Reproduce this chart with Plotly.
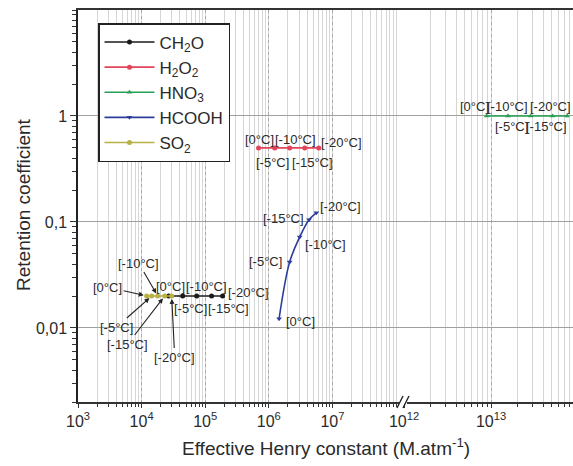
import numpy as np
import plotly.graph_objects as go

# ---------------- data ----------------
temps = ["[0°C]", "[-5°C]", "[-10°C]", "[-15°C]", "[-20°C]"]

ch2o_H = [2.67e4, 4.43e4, 7.35e4, 1.26e5, 1.88e5]
ch2o_R = [0.02, 0.02, 0.02, 0.02, 0.02]

h2o2_H = [6.9e5, 1.24e6, 2.13e6, 3.67e6, 6.1e6]
h2o2_R = [0.5, 0.5, 0.5, 0.5, 0.5]

hno3_H = [8.9e12, 1.57e13, 2.86e13, 5.1e13, 7.5e13]
hno3_R = [1.0, 1.0, 1.0, 1.0, 1.0]

hcooh_H = [1.45e6, 2.13e6, 3.06e6, 4.29e6, 5.6e6]
hcooh_R = [0.0122, 0.042, 0.072, 0.105, 0.122]

so2_H = [1.20e4, 1.44e4, 1.79e4, 2.31e4, 2.97e4]
so2_R = [0.02, 0.02, 0.02, 0.02, 0.02]

x_left_ticks = [1e3, 1e4, 1e5, 1e6, 1e7]
x_left_text = ["10<sup>3</sup>", "10<sup>4</sup>", "10<sup>5</sup>", "10<sup>6</sup>", "10<sup>7</sup>"]
x_right_ticks = [1e12, 1e13]
x_right_text = ["10<sup>12</sup>", "10<sup>13</sup>"]
y_ticks = [1, 0.1, 0.01]
y_text = ["1", "0,1", "0,01"]

# ---------------- styles ----------------
W, H = 573, 466
ML, MR, MT, MB = 78, 0, 10, 64
split = (403 - ML) / (W - ML - MR)
FONT = "Liberation Sans, Arial, sans-serif"
TXT = "#2a2a2a"

series = [
    ("CH<sub>2</sub>O", ch2o_H, ch2o_R, "#1a1a1a", "circle", "x", "linear"),
    ("H<sub>2</sub>O<sub>2</sub>", h2o2_H, h2o2_R, "#e2445a", "circle", "x", "linear"),
    ("HNO<sub>3</sub>", hno3_H, hno3_R, "#27a055", "triangle-up", "x2", "linear"),
    ("HCOOH", hcooh_H, hcooh_R, "#2c3c9a", "triangle-down", "x", "spline"),
    ("SO<sub>2</sub>", so2_H, so2_R, "#b8b044", "circle", "x", "linear"),
]

fig = go.Figure()
for i, (name, xs, ys, col, sym, xa, shp) in enumerate(series):
    fig.add_trace(go.Scatter(
        x=xs, y=ys, name=name, mode="lines+markers",
        xaxis=xa, yaxis="y" if xa == "x" else "y2",
        line=dict(color=col, width=1.6, shape=shp, smoothing=1.0),
        marker=dict(color=col, size=5, symbol=sym),
        legendgroup=str(i),
    ))

# label offsets (pixels): (xshift, yshift) for plain labels
lab_style = dict(font=dict(family=FONT, size=13, color=TXT), showarrow=False)
ch2o_off = [(2, 10), (8, -12), (10, 10), (17, -12), (26, 4)]
h2o2_off = [(1, 8), (-2, -15), (6, 8), (8, -15), (23, 5)]
hcooh_off = [(21, -3), (-24, 0), (26, -7), (-26, 1), (24, 6)]
hno3_off = [(-12, 9), (3, -11), (-23, 9), (-6, -11), (-17, 9)]

anns = []
def add_labels(xs, ys, offs, xref, yref):
    for t, xv, yv, (dx, dy) in zip(temps, xs, ys, offs):
        anns.append(dict(x=np.log10(xv), y=np.log10(yv), xref=xref, yref=yref,
                         text=t, xshift=dx, yshift=dy, **lab_style))

add_labels(ch2o_H, ch2o_R, ch2o_off, "x", "y")
add_labels(h2o2_H, h2o2_R, h2o2_off, "x", "y")
add_labels(hcooh_H, hcooh_R, hcooh_off, "x", "y")
add_labels(hno3_H, hno3_R, hno3_off, "x2", "y2")

# SO2 labels with arrows (ax, ay = text offset in px)
so2_arrow = [(-39, -9), (-35, 31), (-19, -33), (-37, 48), (3, 61)]
for t, xv, yv, (ax, ay) in zip(temps, so2_H, so2_R, so2_arrow):
    anns.append(dict(x=np.log10(xv), y=np.log10(yv), xref="x", yref="y", text=t,
                     showarrow=True, ax=ax, ay=ay, arrowhead=2, arrowsize=0.9,
                     arrowwidth=1.1, arrowcolor="#222", standoff=3,
                     font=dict(family=FONT, size=13, color=TXT)))

# axis titles
anns.append(dict(x=0.5, y=(402 - 447) / 392, xref="paper", yref="paper",
                 text="Effective Henry constant (M.atm<sup>-1</sup>)", showarrow=False,
                 font=dict(family=FONT, size=19, color=TXT), xanchor="center", yanchor="middle"))
anns.append(dict(x=(23 - ML) / (W - ML), y=(402 - 205) / 392, xref="paper", yref="paper",
                 text="Retention coefficient", textangle=-90, showarrow=False,
                 font=dict(family=FONT, size=19, color=TXT), xanchor="center", yanchor="middle"))

xcommon = dict(type="log", showline=True, linecolor="#333", linewidth=1.5, mirror=True,
               ticks="outside", ticklen=4, tickcolor="#333",
               showgrid=True, gridcolor="#a8a8a8", griddash="dot", gridwidth=1,
               tickfont=dict(family=FONT, size=16, color=TXT),
               minor=dict(dtick="D1", showgrid=True, gridcolor="#d6d6d6", gridwidth=1,
                          griddash="solid",
                          ticks="outside", ticklen=3, tickcolor="#333"),
               zeroline=False)

fig.update_layout(
    width=W, height=H, margin=dict(l=ML, r=MR, t=MT, b=MB),
    paper_bgcolor="white", plot_bgcolor="white",
    xaxis=dict(domain=[0, split], range=[3, 3 + 325 / 63.6],
               tickvals=x_left_ticks, ticktext=x_left_text, anchor="y", **xcommon),
    xaxis2=dict(domain=[split, 1], range=[12 - 1 / 87, 12 - 1 / 87 + 170 / 87],
                tickvals=x_right_ticks, ticktext=x_right_text, anchor="y2", **xcommon),
    yaxis=dict(type="log", range=[np.log10(0.002), 1.0], anchor="x",
               showline=True, linecolor="#222", linewidth=1.5,
               tickvals=y_ticks, ticktext=y_text, ticks="outside", ticklen=6, tickcolor="#333",
               tickfont=dict(family=FONT, size=16, color=TXT),
               showgrid=True, gridcolor="#a0a0a0", gridwidth=1.2,
               minor=dict(dtick="D1", ticks="outside", ticklen=4, tickcolor="#333", showgrid=False),
               zeroline=False),
    yaxis2=dict(type="log", range=[np.log10(0.002), 1.0], anchor="x2", matches="y",
                showline=False, showticklabels=False, ticks="",
                tickvals=y_ticks, showgrid=True, gridcolor="#a0a0a0", gridwidth=1.2,
                zeroline=False),
    legend=dict(x=(98 - ML) / (W - ML), y=(402 - 23) / 392, xanchor="left", yanchor="top",
                bgcolor="white", bordercolor="#222", borderwidth=1.5,
                font=dict(family=FONT, size=17, color=TXT),
                traceorder="grouped", tracegroupgap=0, itemwidth=50),
    annotations=anns,
    showlegend=True,
)

# axis break marks
shapes = [
    dict(type="rect", xref="paper", yref="paper", xsizemode="pixel", ysizemode="pixel",
         xanchor=split, yanchor=0, x0=-4, x1=4, y0=-2, y1=2,
         fillcolor="white", line=dict(width=0)),
]
for dx in (-3, 3):
    shapes.append(dict(type="line", xref="paper", yref="paper", xsizemode="pixel", ysizemode="pixel",
                       xanchor=split, yanchor=0, x0=dx - 3, x1=dx + 3, y0=-6, y1=6,
                       line=dict(color="#222", width=1.4)))
fig.update_layout(shapes=shapes)

fig.write_html("out.html")
